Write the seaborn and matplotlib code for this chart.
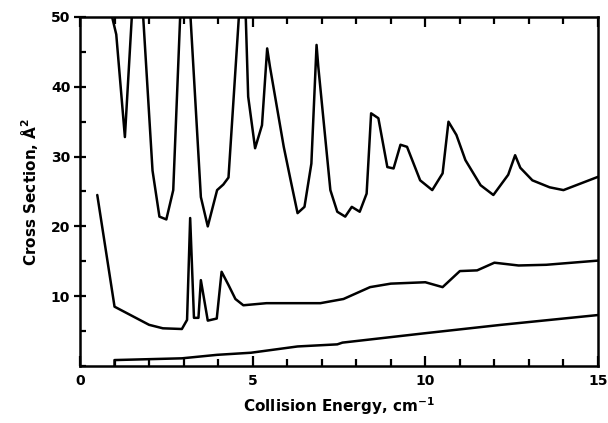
import matplotlib
matplotlib.use("Agg")
import matplotlib.pyplot as plt
import seaborn as sns
import numpy as np
from matplotlib.ticker import MultipleLocator

# ---- data ----
top_x = [0.85, 0.93, 1.05, 1.3, 1.5, 1.65, 1.83, 2.1, 2.3, 2.5, 2.7, 2.9, 3.05, 3.2, 3.5, 3.7,
         3.97, 4.15, 4.3, 4.6, 4.7, 4.8, 4.87, 5.07, 5.27, 5.42, 5.5, 5.9, 6.1, 6.3, 6.5, 6.7,
         6.85, 6.9, 7.25, 7.45, 7.68, 7.87, 8.1, 8.3, 8.43, 8.64, 8.9, 9.08, 9.28, 9.47, 9.85,
         10.2, 10.5, 10.67, 10.9, 11.16, 11.6, 11.97, 12.4, 12.6, 12.75, 13.1, 13.6, 14.0, 15.0]
top_y = [55, 50, 47.5, 32.8, 50, 55, 50, 28, 21.4, 21, 25.2, 50, 55, 50, 24.2, 20,
         25.2, 26, 27, 50, 55, 50, 38.6, 31.2, 34.5, 45.5, 42.9, 31.4, 26.6, 21.9, 22.8, 29,
         46, 42.9, 25.2, 22.1, 21.4, 22.8, 22.1, 24.7, 36.2, 35.5, 28.5, 28.3, 31.7, 31.4, 26.6,
         25.2, 27.6, 35, 33.1, 29.5, 25.9, 24.5, 27.4, 30.2, 28.4, 26.6, 25.6, 25.2, 27.1]

mid_x = [0.5, 1.0, 2.0, 2.4, 2.95, 3.1, 3.19, 3.3, 3.43, 3.5, 3.7, 3.96, 4.1, 4.3, 4.5, 4.73,
         5.4, 6.96, 7.63, 8.4, 9.0, 10.0, 10.5, 11.0, 11.5, 12.0, 12.7, 13.5, 15.0]
mid_y = [24.5, 8.5, 5.9, 5.4, 5.3, 6.6, 21.2, 6.9, 6.9, 12.3, 6.5, 6.8, 13.5, 11.6, 9.6, 8.7,
         9.0, 9.0, 9.6, 11.3, 11.8, 12.0, 11.3, 13.6, 13.7, 14.8, 14.4, 14.5, 15.1]

bot_x = [1.0, 1.0, 2.95, 3.97, 4.95, 6.3, 7.45, 7.6, 10.0, 12.2, 15.0]
bot_y = [0.0, 0.85, 1.1, 1.6, 1.9, 2.8, 3.1, 3.35, 4.7, 5.9, 7.3]

x_ticks = [0, 5, 10, 15]
y_ticks = [10, 20, 30, 40, 50]

sns.set_style("white")
plt.rcParams['font.family'] = ['DejaVu Sans']
plt.rcParams['text.color'] = 'black'
plt.rcParams['axes.labelcolor'] = 'black'
plt.rcParams['xtick.color'] = 'black'
plt.rcParams['ytick.color'] = 'black'

fig = plt.figure(figsize=(6.08, 4.23), dpi=100)
ax = fig.add_axes([80/608, 1-366/423, 518/608, 349/423])

for xs, ys in [(top_x, top_y), (mid_x, mid_y), (bot_x, bot_y)]:
    sns.lineplot(x=xs, y=ys, ax=ax, color="black", linewidth=1.8, sort=False,
                 estimator=None)

ax.set_xlim(0, 15)
ax.set_ylim(0, 50)
ax.set_xticks(x_ticks)
ax.set_yticks(y_ticks)
ax.xaxis.set_minor_locator(MultipleLocator(1))
ax.yaxis.set_minor_locator(MultipleLocator(5))
ax.tick_params(axis='x', which='major', direction='in', length=7, width=1.6,
               top=True, bottom=True, labelsize=10, pad=6)
ax.tick_params(axis='x', which='minor', direction='in', length=5, width=1.6,
               top=True, bottom=True)
ax.tick_params(axis='y', which='major', direction='inout', length=8, width=1.6,
               left=True, right=False, labelsize=10, pad=3)
ax.tick_params(axis='y', which='minor', direction='in', length=4, width=1.6,
               left=True, right=False)
for lbl in ax.get_xticklabels() + ax.get_yticklabels():
    lbl.set_fontweight('bold')
for s in ax.spines.values():
    s.set_linewidth(1.8)
    s.set_color('black')

ax.set_xlabel("Collision Energy, cm$^{\\mathbf{-1}}$", fontsize=11, fontweight='bold', labelpad=5)
ax.set_ylabel("Cross Section, Å$^{\\mathbf{2}}$", fontsize=11, fontweight='bold', labelpad=8)

fig.savefig("out.png", dpi=100)
